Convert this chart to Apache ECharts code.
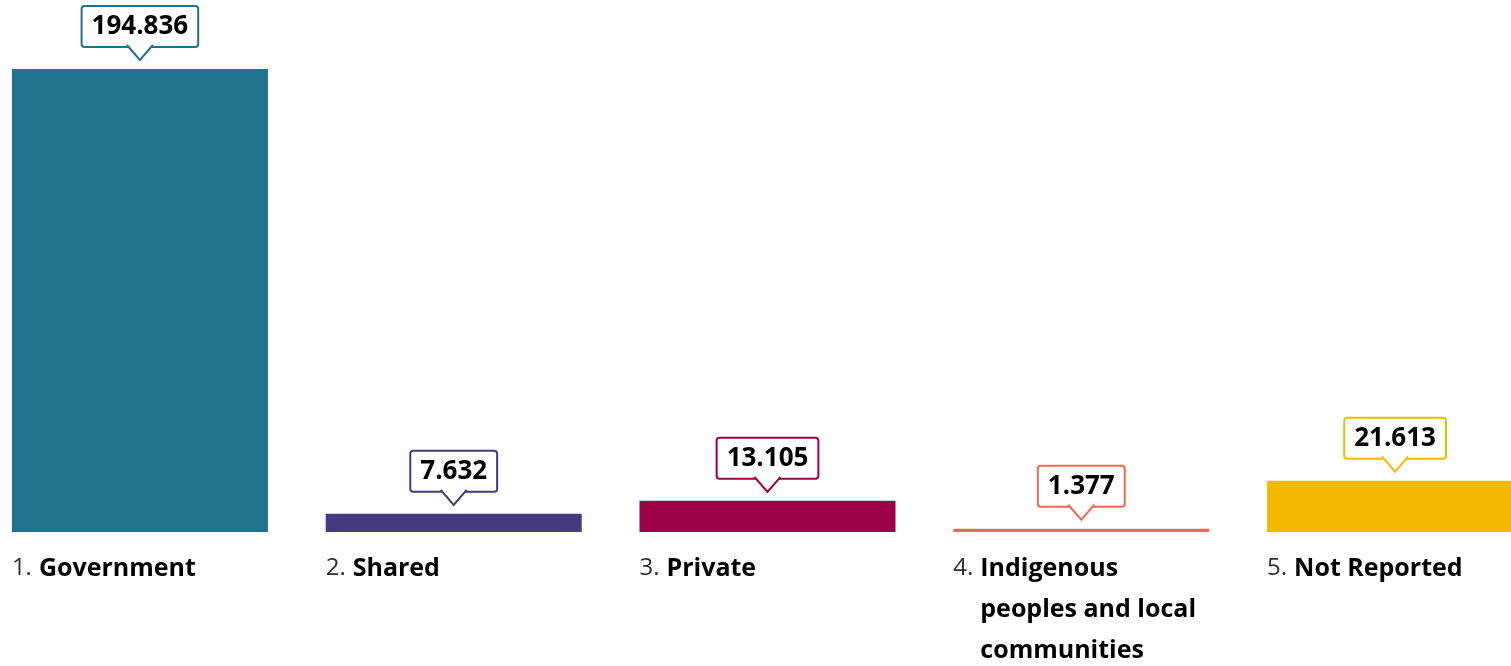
<!DOCTYPE html>
<html><head><meta charset="utf-8">
<style>html,body{margin:0;padding:0;background:#fff}#c{width:1511px;height:666px}</style>
<script src="https://cdn.jsdelivr.net/npm/echarts@6/dist/echarts.min.js"></script>
</head><body><div id="c"></div>
<script>
const categories = ['Government', 'Shared', 'Private', 'Indigenous peoples and local communities', 'Not Reported'];
const values = [194.836, 7.632, 13.105, 1.377, 21.613];
const valueLabels = ['194.836', '7.632', '13.105', '1.377', '21.613'];
const colors = ['#21718f', '#433a80', '#9b0048', '#ef6a55', '#f5b800'];

const chart = echarts.init(document.getElementById('c'), null, {renderer: 'canvas'});
const BAR_W = 256;
const FONT = '"Open Sans", "DejaVu Sans", sans-serif';

function renderCallout(params, api) {
  const i = api.value(0);
  const v = api.value(1);
  const top = api.coord([i, v]);
  const base = api.coord([i, 0]);
  const cx = top[0];
  const color = colors[i];
  const tipY = top[1] - 9;
  const boxBottom = top[1] - 23;
  const left = base[0] - BAR_W / 2;
  return {
    type: 'group',
    children: [
      {
        type: 'text',
        style: {
          text: valueLabels[i], x: cx, y: boxBottom, align: 'center', verticalAlign: 'bottom',
          font: 'bold 26px ' + FONT, fill: '#000', lineHeight: 27,
          backgroundColor: '#fff', borderColor: color, borderWidth: 2, borderRadius: 2,
          padding: [6, 9, 6, 9]
        }
      },
      {
        type: 'polygon',
        shape: {points: [[cx - 13, boxBottom - 1.5], [cx, tipY], [cx + 13, boxBottom - 1.5]]},
        style: {fill: '#fff', stroke: null}
      },
      {
        type: 'polyline',
        shape: {points: [[cx - 13, boxBottom - 1], [cx, tipY], [cx + 13, boxBottom - 1]]},
        style: {stroke: color, lineWidth: 2, fill: null}
      },
      {
        type: 'text',
        style: {
          text: (i + 1) + '.', x: left, y: base[1] + 16, align: 'left', verticalAlign: 'top',
          font: '24px ' + FONT, fill: '#2b2f3a', lineHeight: 41
        }
      },
      {
        type: 'text',
        style: {
          text: categories[i], x: left + 27, y: base[1] + 16, align: 'left', verticalAlign: 'top',
          font: 'bold 25px ' + FONT, fill: '#000', lineHeight: 41,
          width: BAR_W - 30, overflow: 'break'
        }
      }
    ]
  };
}

chart.setOption({
  animation: false,
  grid: {left: -17, top: 56.7, right: -41, bottom: 134, containLabel: false, outerBoundsMode: 'none'},
  xAxis: {
    type: 'category', data: categories,
    axisLine: {show: false}, axisTick: {show: false}, axisLabel: {show: false}, splitLine: {show: false}
  },
  yAxis: {type: 'value', min: 0, max: 200, show: false, splitLine: {show: false}},
  series: [
    {
      type: 'bar', barWidth: BAR_W,
      data: values.map((v, i) => ({value: v, itemStyle: {color: colors[i]}}))
    },
    {
      type: 'custom', clip: false, z: 5,
      data: values.map((v, i) => [i, v]),
      renderItem: renderCallout
    }
  ]
});
</script></body></html>
